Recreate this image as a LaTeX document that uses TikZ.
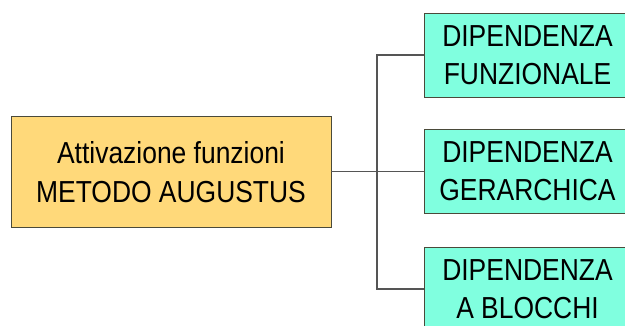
\documentclass[tikz,border=0pt]{standalone}
\usepackage{fontspec}
\setmainfont[FakeStretch=0.87]{Liberation Sans}
\definecolor{boxyellow}{HTML}{FFD97A}
\definecolor{boxteal}{HTML}{80FFDF}
\definecolor{edgegrey}{HTML}{4A4A3A}
\definecolor{linegrey}{HTML}{555555}
\begin{document}
\begin{tikzpicture}[x=1bp,y=-1bp,
  txt/.style={font=\fontsize{30.5}{38.5}\selectfont, align=center, inner sep=0pt, draw=edgegrey, line width=0.9bp},
  mainbox/.style={txt, fill=boxyellow, minimum width=320bp, minimum height=111bp},
  depbox/.style={txt, fill=boxteal, minimum width=207bp, minimum height=84bp},
  conn/.style={draw=linegrey, line width=1.4bp}]
\useasboundingbox (0,0) rectangle (625,325);
\node[mainbox] (main) at (171,172) {Attivazione funzioni\\METODO AUGUSTUS};
\node[depbox] (r1) at (527.5,55) {DIPENDENZA\\FUNZIONALE};
\node[depbox] (r2) at (527.5,171.5) {DIPENDENZA\\GERARCHICA};
\node[depbox] (r3) at (527.5,289) {DIPENDENZA\\A BLOCCHI};
\coordinate (j) at (377,171.5);
\draw[conn] (main.east |- r2.west) -- (r2.west);
\draw[conn] (r1.west) -| (j);
\draw[conn] (j) |- (r3.west);
\end{tikzpicture}
\end{document}
